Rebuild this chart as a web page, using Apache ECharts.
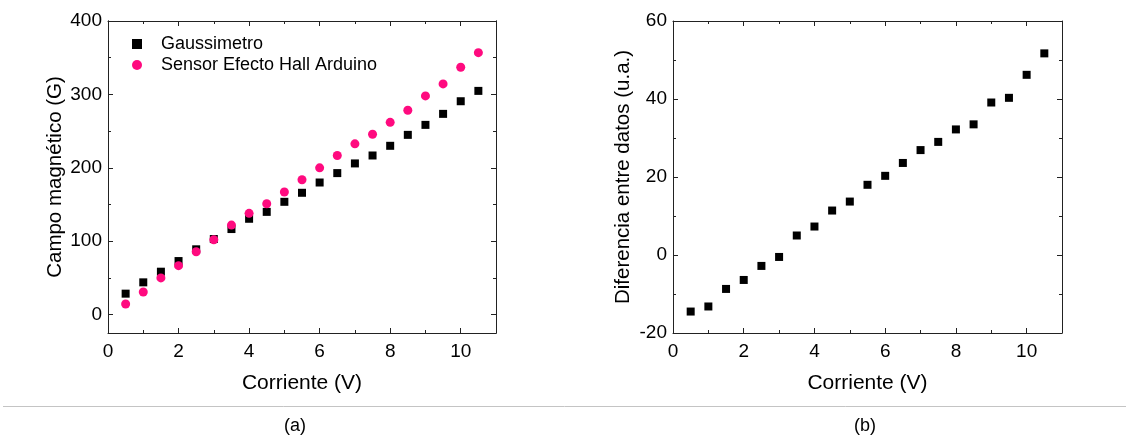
<!DOCTYPE html>
<html>
<head>
<meta charset="utf-8">
<script src="https://cdn.jsdelivr.net/npm/echarts@6/dist/echarts.min.js"></script>
<style>
html,body{margin:0;padding:0;background:#fff;}
#c{width:1126px;height:437px;}
</style>
</head>
<body>
<div id="c"></div>
<script>
const current = [0.5,1,1.5,2,2.5,3,3.5,4,4.5,5,5.5,6,6.5,7,7.5,8,8.5,9,9.5,10,10.5];
const gauss = [28.6,44,58.5,73,89,103,116.6,130.6,140,153.7,166,180,192.8,206,216.8,230,244.9,258.5,273.5,290.7,304.8];
const sensor = [14.5,30.8,50,66.7,85.7,102,122,138,151,167,183.7,200,216.8,232.7,245.8,262,278.4,298,314.3,337,356.9];
const diff = [-14.5,-13.2,-8.7,-6.4,-2.8,-0.5,5.0,7.3,11.4,13.7,18.0,20.3,23.6,26.9,29.0,32.2,33.5,39.1,40.3,46.2,51.7];
const seriesNames = ['Gaussimetro','Sensor Efecto Hall Arduino'];
const panelLabels = ['(a)','(b)'];
const xTitle = 'Corriente (V)';
const yTitleA = 'Campo magnético (G)';
const yTitleB = 'Diferencia entre datos (u.a.)';
const yTicksA = [0,100,200,300,400];
const yMinorA = [50,150,250,350];

const FONT = '"Liberation Sans", Arial, sans-serif';
const AX = '#222';
const TICK_FS = 19, XT_FS = 21, YT_FS = 20.5;
const pair = (xs, ys) => xs.map((x,i)=>[x, ys[i]]);

function xAx(grid, pos, show){
  return {
    type:'value', gridIndex:grid, position:pos, min:0, max:11, interval:2,
    axisLine:{show:true, onZero:false, lineStyle:{color:AX, width:1}},
    axisTick:{show:true, inside:true, length:5, lineStyle:{color:AX}},
    minorTick:{show:true, splitNumber:2, length:3, lineStyle:{color:AX}},
    axisLabel:{show:show, color:'#000', fontSize:TICK_FS, fontFamily:FONT, margin:9,
      formatter: v => (v%2===0 && v<=10) ? String(v) : ''},
    splitLine:{show:false}, minorSplitLine:{show:false},
    name: show ? xTitle : '', nameLocation:'middle', nameGap:40,
    nameTextStyle:{color:'#000', fontSize:XT_FS, fontFamily:FONT}
  };
}
function yAx(grid, pos, show, min, max, interval, title, gap){
  return {
    type:'value', gridIndex:grid, position:pos, min:min, max:max, interval:interval,
    axisLine:{show:true, onZero:false, lineStyle:{color:AX, width:1}},
    axisTick:{show:true, inside:true, length:5, lineStyle:{color:AX}},
    minorTick:{show:true, splitNumber:2, length:3, lineStyle:{color:AX}},
    axisLabel:{show:show, color:'#000', fontSize:TICK_FS, fontFamily:FONT, margin:6,
      formatter: v => String(v)},
    splitLine:{show:false}, minorSplitLine:{show:false},
    name: show ? title : '', nameLocation:'middle', nameGap:gap,
    nameTextStyle:{color:'#000', fontSize:YT_FS, fontFamily:FONT}
  };
}
function yCustom(grid, pos, show, ticks, len, title, gap){
  return {
    type:'value', gridIndex:grid, position:pos, min:-25, max:400,
    axisLine:{show:true, onZero:false, lineStyle:{color:AX, width:1}},
    axisTick:{show:true, inside:true, length:len, customValues:ticks, lineStyle:{color:AX}},
    minorTick:{show:false},
    axisLabel:{show:!!show, color:'#000', fontSize:TICK_FS, fontFamily:FONT, margin:6,
      customValues:ticks, formatter: v => String(v)},
    splitLine:{show:false},
    name: show ? title : '', nameLocation:'middle', nameGap:gap,
    nameTextStyle:{color:'#000', fontSize:YT_FS, fontFamily:FONT}
  };
}

const chart = echarts.init(document.getElementById('c'), null, {renderer:'canvas'});
chart.setOption({
  backgroundColor:'#fff',
  animation:false,
  grid:[
    {left:108, top:21, width:388, height:312},
    {left:673, top:21, width:389, height:312}
  ],
  xAxis:[ xAx(0,'bottom',true), xAx(0,'top',false), xAx(1,'bottom',true), xAx(1,'top',false) ],
  yAxis:[
    yCustom(0,'left',true,yTicksA,5,yTitleA,42),
    yCustom(0,'right',false,yTicksA,5,'',0),
    yCustom(0,'left',false,yMinorA,3,'',0),
    yCustom(0,'right',false,yMinorA,3,'',0),
    yAx(1,'left',true,-20,60,20,yTitleB,39),
    yAx(1,'right',false,-20,60,20,'',0)
  ],
  legend:{
    left:127, top:30, orient:'vertical', itemGap:3, itemWidth:10, itemHeight:10,
    textStyle:{color:'#000', fontSize:18, fontFamily:FONT, padding:[0,0,0,14]},
    data:[{name:seriesNames[0], icon:'rect'},{name:seriesNames[1], icon:'circle'}]
  },
  title:[
    {text:panelLabels[0], left:290, top:412, textAlign:'center', textStyle:{color:'#000', fontSize:18, fontWeight:'normal', fontFamily:FONT}},
    {text:panelLabels[1], left:860, top:412, textAlign:'center', textStyle:{color:'#000', fontSize:18, fontWeight:'normal', fontFamily:FONT}}
  ],
  graphic:[
    {type:'line', shape:{x1:3, y1:406.5, x2:1126, y2:406.5}, style:{stroke:'#c4c4c4', lineWidth:1}}
  ],
  series:[
    {name:seriesNames[0], type:'scatter', xAxisIndex:0, yAxisIndex:0, symbol:'rect', symbolSize:8,
     itemStyle:{color:'#000', opacity:1}, data:pair(current,gauss)},
    {name:seriesNames[1], type:'scatter', xAxisIndex:0, yAxisIndex:0, symbol:'circle', symbolSize:9,
     itemStyle:{color:'#ff0a7f', opacity:1}, data:pair(current,sensor)},
    {name:'diff', type:'scatter', xAxisIndex:2, yAxisIndex:4, symbol:'rect', symbolSize:8,
     itemStyle:{color:'#000', opacity:1}, data:pair(current,diff)}
  ]
});
</script>
</body>
</html>
